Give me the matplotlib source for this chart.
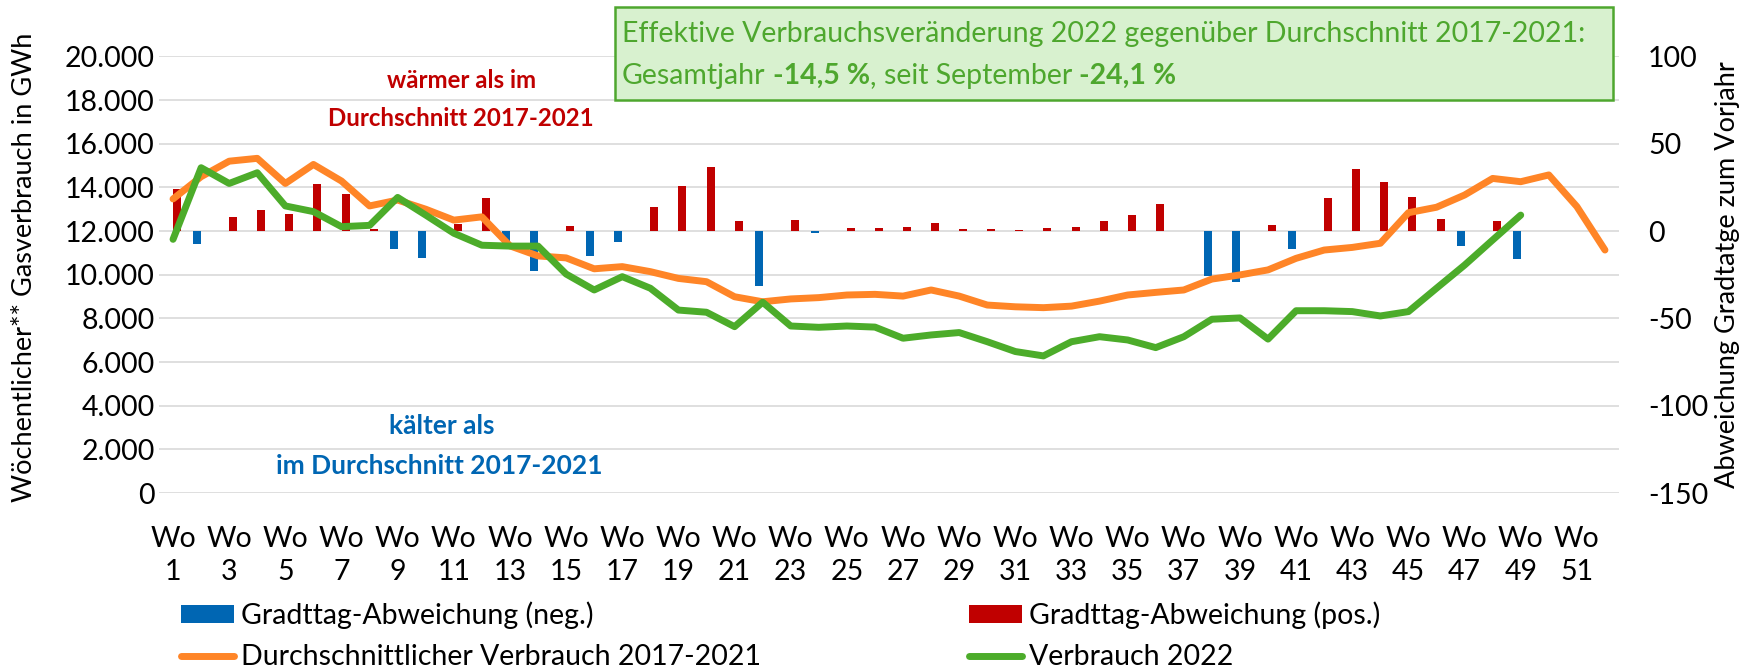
import matplotlib
matplotlib.use("Agg")
import matplotlib.pyplot as plt
from matplotlib.patches import Rectangle, Patch
from matplotlib.lines import Line2D
from matplotlib.ticker import FuncFormatter, MultipleLocator
import numpy as np

# ---------------- data ----------------
weeks = list(range(1, 53))
week_labels = [f"Wo\n{w}" for w in range(1, 53, 2)]

avg_2017_2021 = [13470, 14490, 15200, 15330, 14180, 15050, 14290, 13150, 13420, 13000,
                 12500, 12650, 11320, 10860, 10770, 10270, 10370, 10140, 9830, 9680,
                 8990, 8760, 8890, 8950, 9070, 9100, 9020, 9300, 9020, 8610,
                 8530, 8490, 8560, 8790, 9070, 9190, 9300, 9800, 9990, 10220,
                 10750, 11130, 11250, 11440, 12840, 13090, 13650, 14410, 14260, 14570,
                 13120, 11130]

weeks_2022 = list(range(1, 50))
cons_2022 = [11620, 14900, 14180, 14670, 13150, 12890, 12200, 12260, 13540, 12730,
             11900, 11350, 11310, 11310, 10030, 9300, 9910, 9380, 8380, 8280,
             7620, 8740, 7650, 7590, 7650, 7600, 7090, 7240, 7350, 6930,
             6480, 6280, 6930, 7160, 7010, 6660, 7160, 7960, 8020, 7050,
             8350, 8350, 8310, 8110, 8310, 9380, 10440, 11590, 12730]

gradtag_dev = [24.3, -7.6, 8.2, 11.8, 10.0, 26.9, 21.2, 1.0, -10.3, -15.6,
               4.0, 19.0, -8.0, -22.7, 3.0, -14.5, -6.3, 13.6, 25.8, 36.8,
               5.5, -31.5, 6.3, -1.3, 1.5, 1.5, 2.1, 4.8, 0.9, 0.9,
               0.8, 1.5, 2.5, 5.7, 9.0, 15.3, 0.3, -25.8, -29.0, 3.4,
               -10.5, 19.1, 35.5, 28.1, 19.5, 7.1, -8.4, 5.7, -16.0]

dev = np.array(gradtag_dev)
dev_neg = np.where(dev < 0, dev, 0)
dev_pos = np.where(dev > 0, dev, 0)

# ---------------- style ----------------
FONT = ["Lato", "DejaVu Sans"]
plt.rcParams['font.family'] = FONT
plt.rcParams['axes.unicode_minus'] = False
FS = 20.5
FS_AX = 19.5
C_BLUE = "#0066b3"
C_RED = "#c00000"
C_ORANGE = "#ff8527"
C_GREEN = "#4cac2a"
C_GRID = "#d9d9d9"
C_BOXTXT = "#4ea72e"

W, H = 1743, 671
fig = plt.figure(figsize=(W / 100, H / 100), dpi=100)

x0, x1 = 159, 1619
y_top, y_bot = 56.4, 493
ax = fig.add_axes([x0 / W, 1 - y_bot / H, (x1 - x0) / W, (y_bot - y_top) / H])
ax2 = ax.twinx()

bw = 0.285
ax.bar(weeks_2022, dev_neg, width=-bw, align='edge', color=C_BLUE, zorder=3)
ax.bar(weeks_2022, dev_pos, width=bw, align='edge', color=C_RED, zorder=3)
ax.set_ylim(-150, 100)
ax.set_xlim(0.5, 52.5)
ax.yaxis.set_major_locator(MultipleLocator(50))
ax.yaxis.set_minor_locator(MultipleLocator(25))
ax.grid(True, axis='y', which='both', color=C_GRID, lw=1.2, zorder=0)
ax.set_axisbelow(True)
ax.set_xticks(list(range(1, 53, 2)))
ax.set_xticklabels(week_labels, linespacing=1.32)
ax.tick_params(axis='x', length=0, labelsize=FS, pad=24)
for s in ax.spines.values():
    s.set_visible(False)

ax2.plot(weeks, avg_2017_2021, color=C_ORANGE, lw=5, solid_capstyle='round',
         solid_joinstyle='round', zorder=4)
ax2.plot(weeks_2022, cons_2022, color=C_GREEN, lw=5, solid_capstyle='round',
         solid_joinstyle='round', zorder=5)
ax2.set_ylim(0, 20000)
ax2.set_xlim(0.5, 52.5)
ax2.yaxis.set_major_locator(MultipleLocator(2000))
ax2.yaxis.set_major_formatter(FuncFormatter(lambda v, p: f"{int(round(v)):,}".replace(",", ".")))
for s in ax2.spines.values():
    s.set_visible(False)

# tick sides: bar scale on the right, consumption scale on the left
ax.yaxis.tick_right()
ax.yaxis.set_label_position('right')
ax.tick_params(axis='y', which='both', length=0, labelsize=FS, pad=21,
               left=False, labelleft=False, right=False, labelright=True)
ax2.yaxis.tick_left()
ax2.yaxis.set_label_position('left')
ax2.tick_params(axis='y', length=0, labelsize=FS, pad=3,
                left=False, labelleft=True, right=False, labelright=False)

# axis labels
fig.text(25 / W, 1 - 267 / H, "Wöchentlicher** Gasverbrauch in GWh", rotation=90,
         ha='center', va='center', fontsize=FS_AX)
fig.text(1728 / W, 1 - 275 / H, "Abweichung Gradtatge zum Vorjahr", rotation=90,
         ha='center', va='center', fontsize=FS_AX)

# annotations
fig.text(462 / W, 1 - 81 / H, "wärmer als im", color=C_RED, fontweight='bold',
         ha='center', va='center', fontsize=17.3)
fig.text(461 / W, 1 - 119 / H, "Durchschnitt 2017-2021", color=C_RED, fontweight='bold',
         ha='center', va='center', fontsize=17.3)
fig.text(442 / W, 1 - 426 / H, "kälter als", color=C_BLUE, fontweight='bold',
         ha='center', va='center', fontsize=19)
fig.text(439 / W, 1 - 466 / H, "im Durchschnitt 2017-2021", color=C_BLUE, fontweight='bold',
         ha='center', va='center', fontsize=19)

# text box
bx0, bx1, by0, by1 = 615, 1613, 7, 100
fig.patches.append(Rectangle((bx0 / W, 1 - by1 / H), (bx1 - bx0) / W, (by1 - by0) / H,
                             transform=fig.transFigure, facecolor="#d8f1cf",
                             edgecolor="#4ea72e", lw=1.8, zorder=10))
fig.text(622 / W, 1 - 34 / H, "Effektive Verbrauchsveränderung 2022 gegenüber Durchschnitt 2017-2021:",
         color=C_BOXTXT, ha='left', va='center', fontsize=FS, zorder=11)

renderer = fig.canvas.get_renderer()


def text_width(s, weight='normal'):
    t = fig.text(0, 0, s, fontsize=FS, fontweight=weight)
    w = t.get_window_extent(renderer).width
    t.remove()
    return w


space_w = text_width("x x") - text_width("xx")
pieces = [("Gesamtjahr", 'normal', True), ("-14,5 %", 'bold', False),
          (",", 'normal', True), ("seit September", 'normal', True), ("-24,1 %", 'bold', False)]
xpos = 622
for txt, wt, sp_after in pieces:
    t = fig.text(xpos / W, 1 - 76 / H, txt, color=C_BOXTXT, ha='left', va='center',
                 fontsize=FS, fontweight=wt, zorder=11)
    xpos += t.get_window_extent(renderer).width + (space_w if sp_after else 0)

# legends
h_neg = Patch(facecolor=C_BLUE, edgecolor='none')
h_pos = Patch(facecolor=C_RED, edgecolor='none')
h_avg = Line2D([], [], color=C_ORANGE, lw=5, solid_capstyle='round')
h_22 = Line2D([], [], color=C_GREEN, lw=5, solid_capstyle='round')
common = dict(frameon=False, fontsize=FS, handlelength=1.85, handletextpad=0.25,
              handleheight=0.6, labelspacing=0.55, borderpad=0, borderaxespad=0,
              loc='upper left')
fig.legend([h_neg, h_avg], ["Gradttag-Abweichung (neg.)", "Durchschnittlicher Verbrauch 2017-2021"],
           bbox_to_anchor=(181 / W, 1 - 601 / H), **common)
fig.legend([h_pos, h_22], ["Gradttag-Abweichung (pos.)", "Verbrauch 2022"],
           bbox_to_anchor=(969 / W, 1 - 601 / H), **common)

fig.savefig("out.png", dpi=100)
